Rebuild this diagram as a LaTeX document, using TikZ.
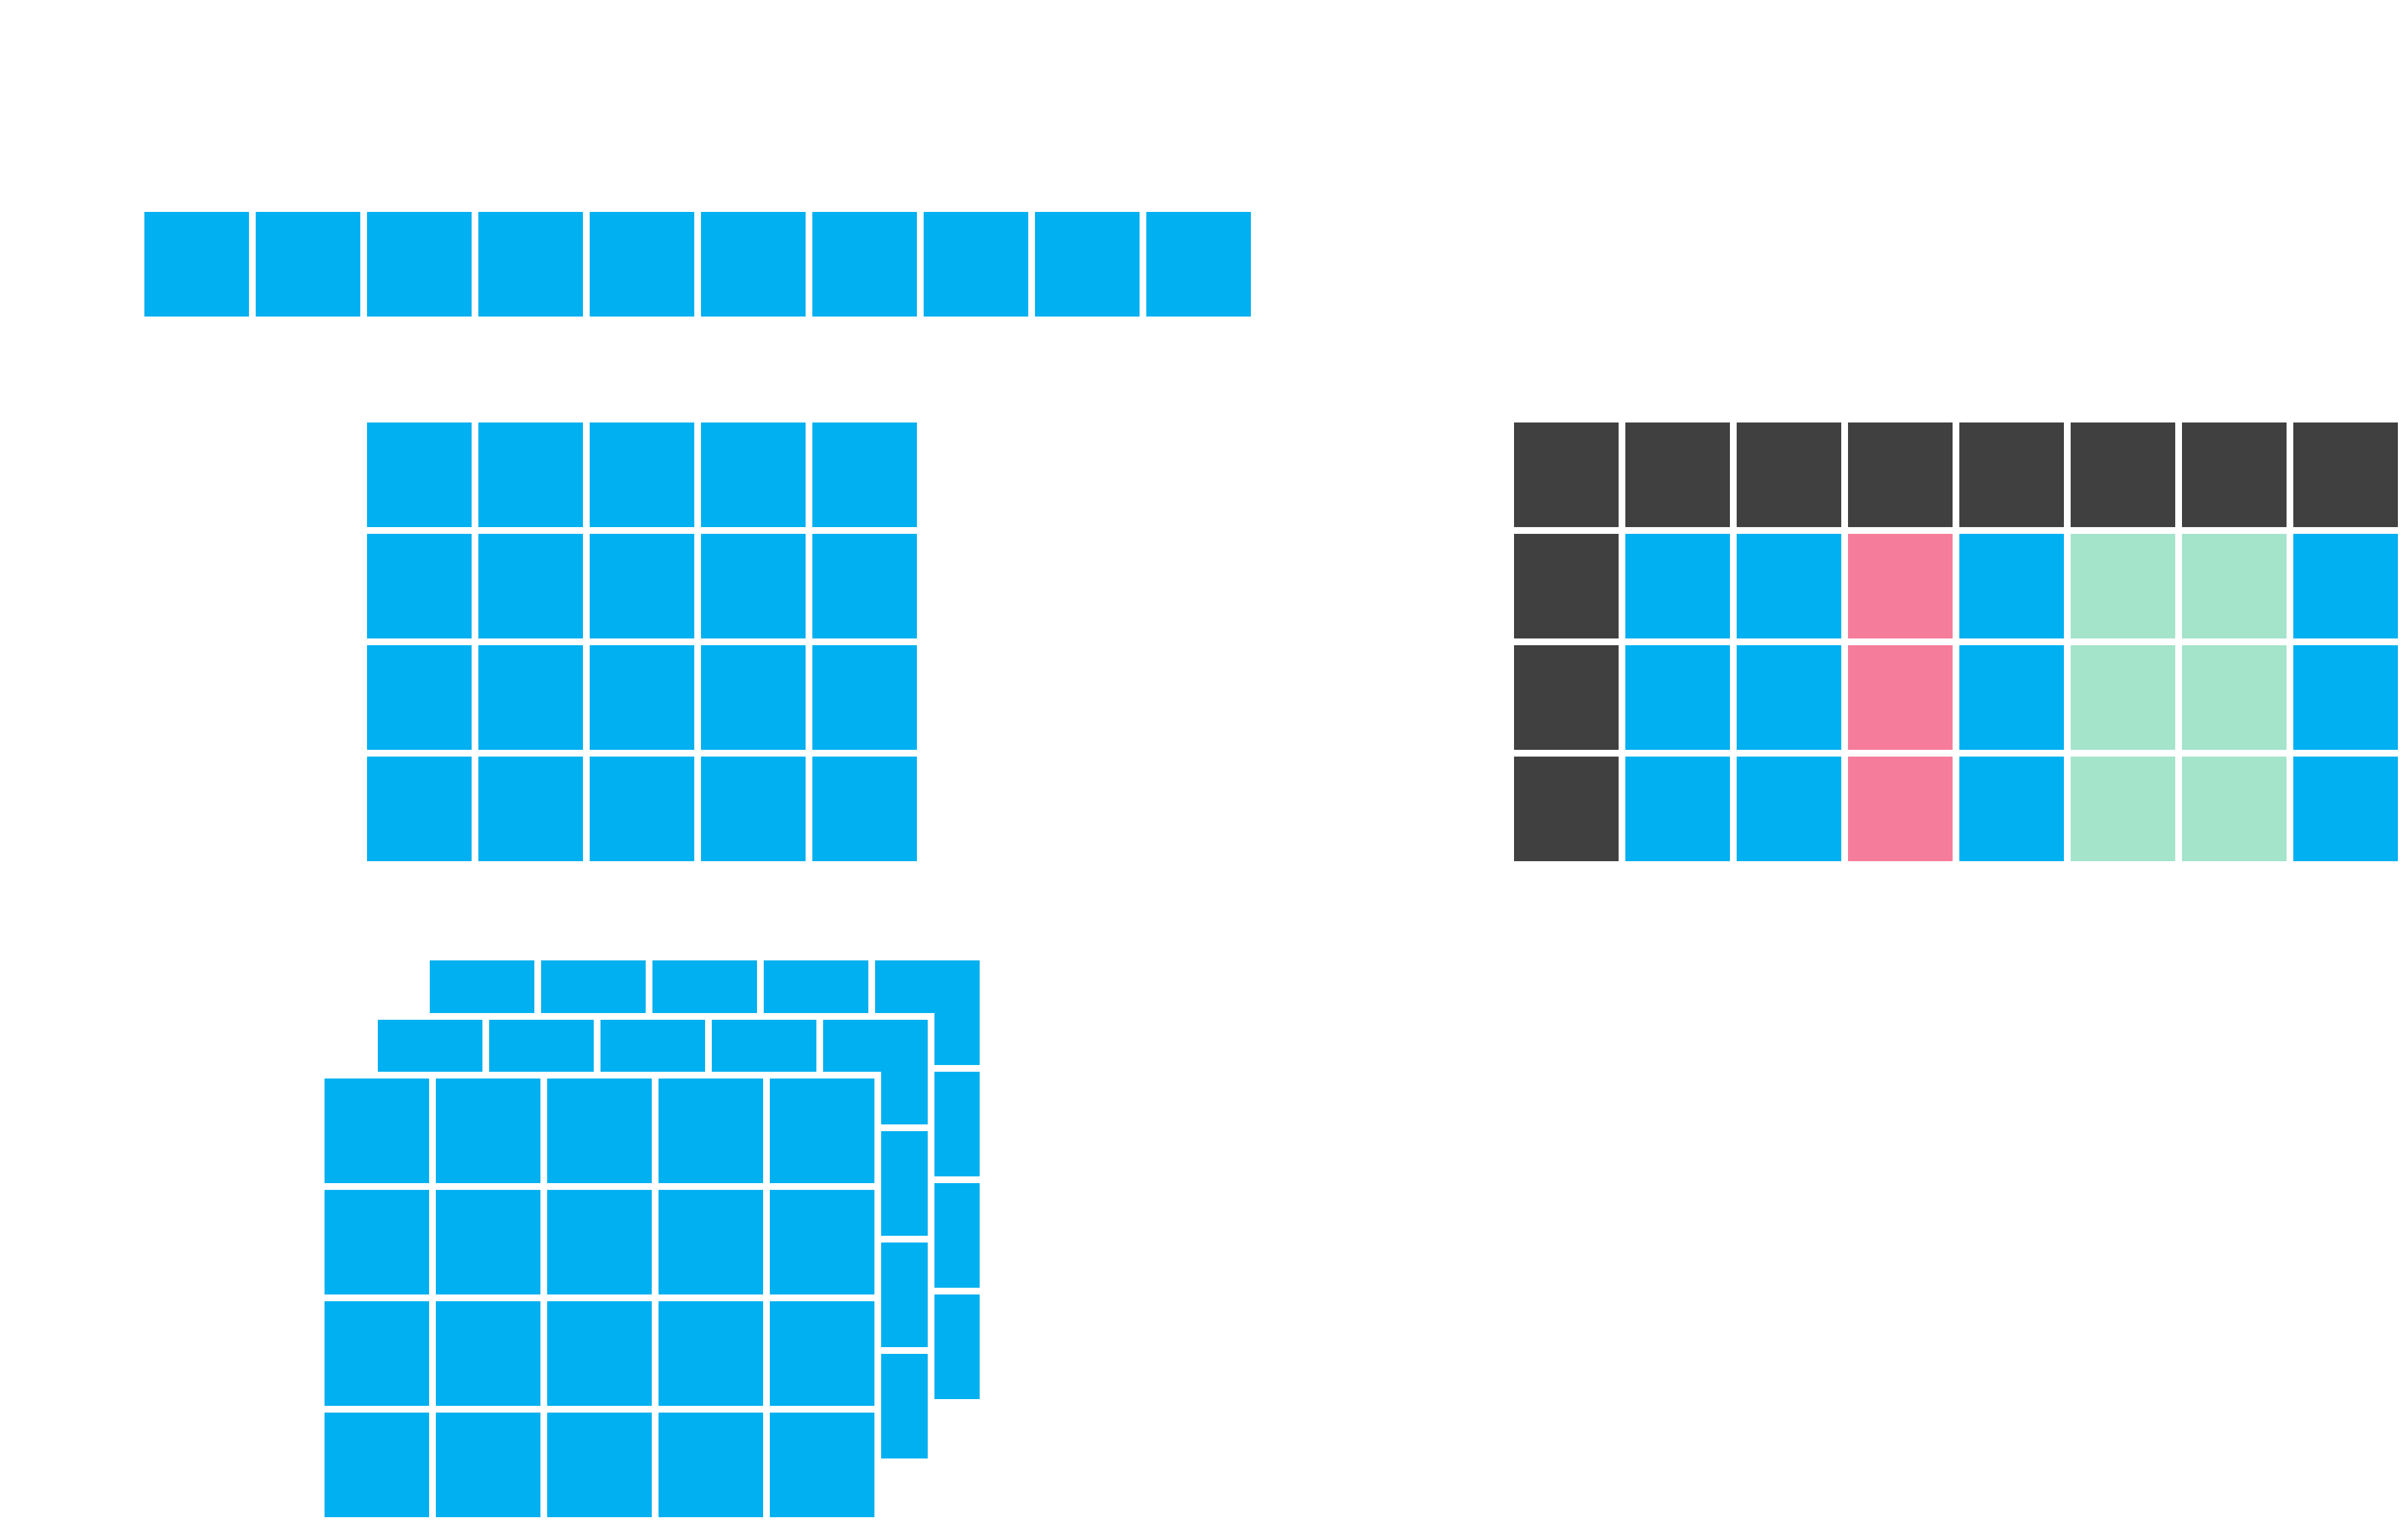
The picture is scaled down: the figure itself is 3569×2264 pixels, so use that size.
\documentclass[tikz,border=0pt]{standalone}
\definecolor{cblue}{HTML}{00B0F0}
\definecolor{cdark}{HTML}{404040}
\definecolor{cpink}{HTML}{F67C9B}
\definecolor{cmint}{HTML}{A3E4CB}
\begin{document}
\begin{tikzpicture}[x=1pt,y=-1pt,
  cellbox/.style={fill=#1},
  cellbox/.default=cblue,
  occluder/.style={fill=white}]
\useasboundingbox[fill=white] (0,0) rectangle (3569,2264);
% top row of ten
\foreach \i in {0,...,9}
  \fill[cellbox] ({214+165*\i},314) rectangle ++(155,155);
% 5x4 grid
\foreach \i in {0,...,4}
  \foreach \j in {0,...,3}
    \fill[cellbox] ({544+165*\i},{626+165*\j}) rectangle ++(155,155);
% right coloured grid
\foreach \i in {0,...,7}
  \fill[cellbox=cdark] ({2244+165*\i},626) rectangle ++(155,155);
\foreach \c [count=\i from 0] in {cdark,cblue,cblue,cpink,cblue,cmint,cmint,cblue}
  \foreach \j in {1,2,3}
    \fill[cellbox=\c] ({2244+165*\i},{626+165*\j}) rectangle ++(155,155);
% stacked layers: back
\foreach \i in {0,...,4}
  \foreach \j in {0,...,3}
    \fill[cellbox] ({637+165*\i},{1423+165*\j}) rectangle ++(155,155);
\fill[occluder] (550,1501) rectangle (1385,2171);
% middle
\foreach \i in {0,...,4}
  \foreach \j in {0,...,3}
    \fill[cellbox] ({560+165*\i},{1511+165*\j}) rectangle ++(155,155);
\fill[occluder] (471,1588) rectangle (1306,2258);
% front
\foreach \i in {0,...,4}
  \foreach \j in {0,...,3}
    \fill[cellbox] ({481+165*\i},{1598+165*\j}) rectangle ++(155,155);
\end{tikzpicture}
\end{document}
